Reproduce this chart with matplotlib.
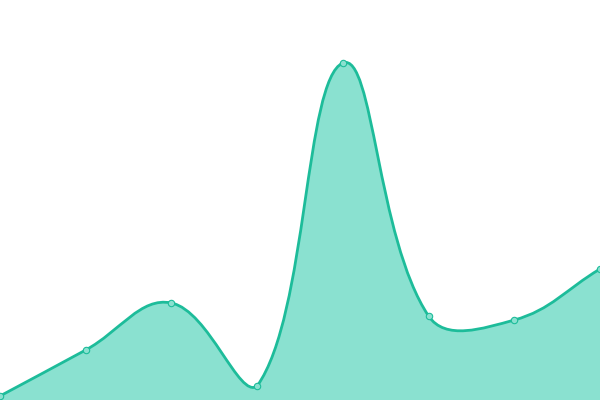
import numpy as np
import matplotlib
matplotlib.use("Agg")
import matplotlib.pyplot as plt
from matplotlib.path import Path
from matplotlib.patches import PathPatch

categories = ["1", "2", "3", "4", "5", "6", "7", "8"]
values = [4, 50, 97, 14, 337, 84, 80, 131]

LINE = "#1dbc9a"
FILL = "#8ae1d0"

fig = plt.figure(figsize=(6, 4), dpi=100)
ax = fig.add_axes([0, 0, 1, 1])
ax.set_xlim(0, len(categories) - 1)
ax.set_ylim(0, 400)
ax.axis("off")

xs = np.arange(len(categories))
pts = ax.transData.transform(np.column_stack([xs, values]))
bbox = ax.bbox

# Chart.js-style spline (tension 0.4), control points capped to the plot area
tension = 0.4
n = len(pts)
cp_prev = [None] * n
cp_next = [None] * n
for i in range(n):
    p = pts[i]
    prev = pts[i - 1] if i > 0 else p
    nxt = pts[i + 1] if i < n - 1 else p
    d01 = np.hypot(*(p - prev))
    d12 = np.hypot(*(nxt - p))
    tot = d01 + d12
    s01 = d01 / tot if tot else 0
    s12 = d12 / tot if tot else 0
    fa = tension * s01
    fb = tension * s12
    cp_prev[i] = p - fa * (nxt - prev)
    cp_next[i] = p + fb * (nxt - prev)
    for c in (cp_prev[i], cp_next[i]):
        c[0] = min(max(c[0], bbox.x0), bbox.x1)
        c[1] = min(max(c[1], bbox.y0), bbox.y1)

verts = [tuple(pts[0])]
codes = [Path.MOVETO]
for i in range(1, n):
    verts += [tuple(cp_next[i - 1]), tuple(cp_prev[i]), tuple(pts[i])]
    codes += [Path.CURVE4] * 3

inv = ax.transData.inverted()
dverts = inv.transform(np.array(verts))
line_path = Path(dverts, codes)

fill_verts = list(map(tuple, dverts)) + [(xs[-1], 0), (xs[0], 0), tuple(dverts[0])]
fill_codes = codes + [Path.LINETO, Path.LINETO, Path.CLOSEPOLY]
ax.add_patch(PathPatch(Path(fill_verts, fill_codes), facecolor=FILL, edgecolor="none", zorder=1))
ax.add_patch(PathPatch(line_path, facecolor="none", edgecolor=LINE, lw=2.0, zorder=2,
                       capstyle="round", joinstyle="round"))
ax.plot(xs, values, linestyle="none", marker="o", markersize=4.6,
        markerfacecolor=FILL, markeredgecolor=LINE, markeredgewidth=0.8, zorder=3)

fig.savefig("out.png", dpi=100)
